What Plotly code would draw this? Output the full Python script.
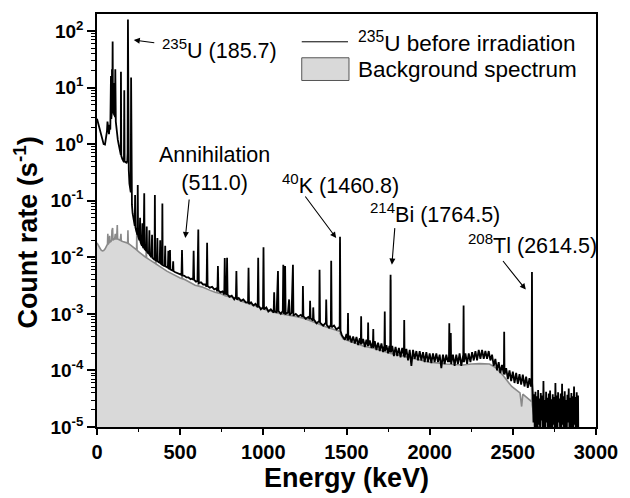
import plotly.graph_objects as go

# ---------------- data ----------------
# 235U before irradiation: energy (keV) and count rate (1/s)
energy_u235 = [
    0, 8, 16, 24, 32, 40, 48, 54, 60, 63, 66, 72, 77, 80, 84, 86, 89, 90, 92, 94, 96, 98, 100, 103, 106, 108,
    110, 113, 117, 121, 125, 130, 135, 140, 143, 144, 146, 152, 158, 162, 164, 166, 172, 178, 182, 184, 186,
    188, 191, 195, 199, 203, 205, 207,
    210, 214, 218, 222, 227, 229, 231, 236, 240, 243, 245, 247, 252, 256, 259, 261, 266, 270, 273, 275, 280,
    284, 286, 291, 296, 299, 301, 306, 312, 315, 317, 322, 327, 331, 333, 338, 342, 346, 348, 350, 355, 360,
    363, 365, 371, 377, 380, 382, 388, 391, 393, 395, 401, 407, 410, 412, 419, 426, 429, 431, 436, 439, 441,
    448, 455, 458, 460, 468, 476, 484, 492, 500,
    508, 511, 514, 525, 538, 550, 563, 572, 578, 581, 584, 595, 604, 609, 612, 625, 638, 650, 659, 662, 665,
    678, 692, 705, 716, 724, 727, 730, 742, 755, 765, 768, 771, 779, 782, 785, 796, 810, 825, 835, 838, 841,
    852, 866, 880, 894, 908, 911, 914, 926, 940, 953, 966, 969, 972, 985, 998, 1001, 1004, 1018, 1030, 1045,
    1062, 1065, 1068, 1080, 1088, 1091, 1105, 1117, 1120, 1123, 1128, 1131, 1134, 1148, 1155, 1158, 1170,
    1178, 1181, 1195, 1210, 1225, 1236, 1238, 1241, 1255, 1270, 1279, 1281, 1284, 1298, 1300, 1303, 1320,
    1336, 1338, 1341, 1360, 1376, 1378, 1381, 1395, 1406, 1408, 1411, 1425, 1440, 1455, 1459, 1461, 1464,
    1472, 1480,
    1490, 1500, 1507, 1509, 1511, 1520, 1530, 1540, 1550, 1560, 1570, 1580, 1586, 1588, 1590, 1600, 1610,
    1620, 1628, 1630, 1632, 1640, 1650, 1659, 1661, 1663, 1670, 1680, 1690, 1700, 1710, 1720, 1728, 1730,
    1732, 1740, 1750, 1758, 1763, 1765, 1767, 1775, 1785, 1795, 1805, 1815, 1825, 1835, 1845, 1847, 1849,
    1860, 1870, 1880, 1890, 1900, 1910, 1920, 1930, 1940, 1950, 1960, 1970, 1980, 1990, 2000, 2010, 2020,
    2030, 2040, 2050, 2060, 2070, 2080, 2090, 2100, 2110, 2116, 2118, 2120, 2125, 2127, 2129, 2140, 2150,
    2160, 2170, 2180, 2190, 2202, 2204, 2206, 2215, 2225, 2235, 2245, 2255, 2265, 2275, 2285, 2295, 2305,
    2315, 2325, 2335, 2345, 2355, 2365, 2375, 2385, 2395, 2405, 2415, 2425, 2435, 2446, 2448, 2450, 2460,
    2470, 2480, 2490, 2500, 2510, 2520, 2530, 2540, 2550, 2560, 2570, 2580, 2590, 2600, 2608, 2613, 2615,
    2617, 2620,
    2624, 2628, 2632, 2636, 2640, 2644, 2648, 2652, 2656, 2660, 2664, 2668, 2672, 2676, 2680, 2684, 2688,
    2692, 2696, 2700, 2704, 2708, 2712, 2716, 2720, 2724, 2728, 2732, 2736, 2740, 2744, 2748, 2752, 2756,
    2760, 2764, 2768, 2772, 2776, 2780, 2784, 2788, 2792, 2796, 2800, 2804, 2808, 2812, 2816, 2820, 2824,
    2828, 2832, 2836, 2840, 2844, 2848, 2852, 2856, 2860, 2864, 2868, 2872, 2876, 2880, 2884, 2888, 2892,
    2894,
]
rate_u235 = [
    2.8, 2.3, 1.8, 1.4, 1.15, 1.0, 0.98, 1.2, 1.7, 2.5, 1.8, 1.5, 2.2, 1.8, 16, 2.8, 3.6, 21, 5, 65, 3.5, 30,
    4, 3.2, 12, 3.0, 21, 2.5, 1.8, 1.4, 1.2, 1.0, 0.85, 0.72, 0.65, 19, 0.62, 0.55, 0.5, 0.48, 9, 0.5, 0.48,
    0.47, 0.5, 0.7, 160, 0.6, 0.35, 0.2, 0.16, 0.14, 15, 0.12,
    0.085, 0.06, 0.05, 0.042, 0.036, 0.126, 0.034, 0.029, 0.026, 0.025, 0.19, 0.024, 0.021, 0.02, 0.05,
    0.019, 0.017, 0.016, 0.04, 0.0155, 0.0145, 0.135, 0.014, 0.0135, 0.013, 0.035, 0.0125, 0.012, 0.0115,
    0.03, 0.011, 0.0105, 0.01, 0.025, 0.0098, 0.0095, 0.0093, 0.009, 0.126, 0.009, 0.0088, 0.0086, 0.022,
    0.0085, 0.0082, 0.008, 0.02, 0.0078, 0.0075, 0.0074, 0.089, 0.0073, 0.0071, 0.007, 0.016, 0.0069,
    0.0067, 0.0065, 0.013, 0.0064, 0.0062, 0.0135, 0.0061, 0.006, 0.0058, 0.0085, 0.0057, 0.0055, 0.0054,
    0.0052, 0.0051, 0.005,
    0.0049, 0.0135, 0.0048, 0.0047, 0.0044, 0.0044, 0.0041, 0.0042, 0.0040, 0.013, 0.0040, 0.0037, 0.0038,
    0.031, 0.0035, 0.0036, 0.0033, 0.0033, 0.0030, 0.018, 0.0031, 0.0029, 0.0030, 0.0027, 0.0028, 0.0025,
    0.007, 0.0026, 0.0024, 0.0025, 0.0022, 0.0097, 0.0023, 0.0022, 0.0098, 0.0022, 0.0020, 0.0021, 0.0018,
    0.0020, 0.0057, 0.0018, 0.0019, 0.0017, 0.0018, 0.0016, 0.0016, 0.0065, 0.0015, 0.0016, 0.0014, 0.0015,
    0.0013, 0.0098, 0.0014, 0.0012, 0.0013, 0.015, 0.0012, 0.0013, 0.0011, 0.0012, 0.00105, 0.0024,
    0.00112, 0.00105, 0.0057, 0.00112, 0.001, 0.00112, 0.0074, 0.001, 0.0011, 0.007, 0.001, 0.00105, 0.0018,
    0.00095, 0.00104, 0.0074, 0.00093, 0.001, 0.0009, 0.00096, 0.00088, 0.0031, 0.0009, 0.00082, 0.00088,
    0.0008, 0.0017, 0.00084, 0.00076, 0.0013, 0.0008, 0.00068, 0.00075, 0.006, 0.0007, 0.00062, 0.0007,
    0.0018, 0.00064, 0.00057, 0.00064, 0.0087, 0.00058, 0.00062, 0.00053, 0.00058, 0.00054, 0.023, 0.0005,
    0.00042, 0.00039,
    3.5e-4, 4.4e-4, 3.4e-4, 1.03e-3, 3.4e-4, 4.1e-4, 3.1e-4, 4.0e-4, 3.0e-4, 3.9e-4, 2.8e-4, 3.7e-4, 2.9e-4,
    9.1e-4, 2.9e-4, 3.6e-4, 2.6e-4, 3.5e-4, 2.7e-4, 7.0e-4, 2.7e-4, 3.4e-4, 2.5e-4, 3.2e-4, 5.4e-4, 2.5e-4,
    3.3e-4, 2.3e-4, 3.1e-4, 2.2e-4, 3.0e-4, 2.1e-4, 2.8e-4, 1.1e-3, 2.2e-4, 2.8e-4, 2.0e-4, 2.7e-4, 2.1e-4,
    4.9e-3, 2.1e-4, 2.7e-4, 1.8e-4, 2.6e-4, 1.8e-4, 2.5e-4, 1.7e-4, 2.5e-4, 1.8e-4, 7.8e-4, 1.7e-4, 2.4e-4,
    1.5e-4, 2.3e-4, 1.2e-4, 2.3e-4, 1.6e-4, 2.2e-4, 1.5e-4, 2.2e-4, 1.5e-4, 2.1e-4, 1.4e-4, 2.1e-4, 1.4e-4,
    2.0e-4, 1.35e-4, 2.0e-4, 1.4e-4, 2.0e-4, 1.4e-4, 1.9e-4, 1.1e-4, 1.9e-4, 1.3e-4, 1.9e-4, 1.4e-4, 1.7e-4,
    6.8e-4, 1.4e-4, 1.7e-4, 4.6e-4, 1.3e-4, 1.9e-4, 1.2e-4, 1.9e-4, 1.3e-4, 2.0e-4, 1.2e-4, 1.9e-4, 1.4e-3,
    1.4e-4, 2.0e-4, 1.3e-4, 2.0e-4, 1.4e-4, 2.1e-4, 1.5e-4, 2.2e-4, 1.5e-4, 2.3e-4, 1.6e-4, 2.3e-4, 1.6e-4,
    2.2e-4, 1.6e-4, 2.2e-4, 1.5e-4, 1.9e-4, 1.2e-4, 1.6e-4, 1.0e-4, 1.4e-4, 9.0e-5, 1.25e-4, 8.5e-5, 4.8e-4,
    8.5e-5, 1.1e-4, 7.0e-5, 1.0e-4, 6.5e-5, 9.5e-5, 6.0e-5, 9.0e-5, 5.8e-5, 8.6e-5, 5.6e-5, 8.4e-5, 5.2e-5,
    7.8e-5, 4.9e-5, 7.3e-5, 5.2e-5, 7.2e-5, 5.5e-3, 6.0e-5, 4.0e-5,
    1.2e-5, 3.8e-5, 8e-6, 4.2e-5, 1.0e-5, 3.5e-5, 7e-6, 4.5e-5, 1.1e-5, 3.2e-5, 8e-6, 4.0e-5, 1.3e-5, 3.6e-5,
    6e-6, 6.5e-5, 1.0e-5, 3.0e-5, 8e-6, 4.2e-5, 1.2e-5, 3.3e-5, 7e-6, 3.9e-5, 1.0e-5, 4.4e-5, 9e-6, 3.1e-5,
    6e-6, 3.8e-5, 1.1e-5, 3.4e-5, 8e-6, 6.0e-5, 1.0e-5, 3.6e-5, 7e-6, 4.1e-5, 1.2e-5, 3.2e-5, 9e-6, 3.9e-5,
    6e-6, 5.8e-5, 1.1e-5, 3.5e-5, 8e-6, 4.3e-5, 1.0e-5, 3.0e-5, 7e-6, 3.7e-5, 1.2e-5, 4.8e-5, 9e-6, 3.3e-5,
    6e-6, 4.0e-5, 1.0e-5, 3.5e-5, 8e-6, 5.2e-5, 1.1e-5, 3.4e-5, 7e-6, 4.1e-5, 9e-6, 3.6e-5, 5e-6,
]

# Background spectrum
energy_bg = [
    0, 8, 16, 24, 32, 40, 48, 56, 63, 65, 67, 74, 76, 78, 84, 88, 90, 92, 94, 96, 100, 106, 110, 112, 118,
    122, 124, 130, 140, 144, 146, 155, 165, 175, 184, 186, 188, 200, 212, 225, 238, 239, 241, 255, 270, 285,
    295, 296, 298, 310, 325, 340, 352, 353, 355, 370, 385, 400, 420, 440, 460, 480, 500, 510, 511, 513, 530,
    550, 570, 590, 608, 609, 611, 630, 660, 680, 710, 740, 770, 800, 830, 860, 890, 920, 950, 980, 1010,
    1040, 1075, 1110, 1140, 1174, 1210, 1250, 1290, 1330, 1370, 1410, 1450, 1460, 1461, 1462, 1480, 1550,
    1600, 1680, 1750, 1764, 1765, 1766, 1800, 1875, 1950, 2000, 2100, 2200, 2250, 2300, 2360, 2400, 2444,
    2493, 2543, 2553, 2560, 2602, 2613, 2614, 2616, 2633, 2650, 2665, 2668,
]
rate_bg = [
    0.018, 0.016, 0.0145, 0.0135, 0.013, 0.0132, 0.014, 0.0155, 0.017, 0.026, 0.017, 0.0185, 0.024, 0.0185,
    0.019, 0.02, 0.03, 0.02, 0.033, 0.02, 0.0205, 0.021, 0.026, 0.021, 0.021, 0.037, 0.021, 0.0205, 0.02,
    0.026, 0.0195, 0.019, 0.0185, 0.018, 0.0178, 0.03, 0.0175, 0.0165, 0.0155, 0.0145, 0.0135, 0.027,
    0.0133, 0.0122, 0.0112, 0.0104, 0.0099, 0.016, 0.0098, 0.0093, 0.0087, 0.0081, 0.0077, 0.012, 0.0076,
    0.0071, 0.0066, 0.0062, 0.0057, 0.0053, 0.0049, 0.0046, 0.0043, 0.0042, 0.0065, 0.0042, 0.004, 0.0037,
    0.0034, 0.0032, 0.0031, 0.006, 0.0031, 0.003, 0.0028, 0.0026, 0.0024, 0.0023, 0.0021, 0.002, 0.0019,
    0.0017, 0.0016, 0.0015, 0.0014, 0.0013, 0.0012, 0.00112, 0.00105, 0.001, 0.00097, 0.00093, 0.00088,
    0.00082, 0.00075, 0.00067, 0.0006, 0.00055, 0.0005, 0.00049, 0.018, 0.00045, 0.00036, 0.0003, 0.00027,
    0.00024, 0.00021, 0.0002, 0.004, 0.0002, 0.00019, 0.00017, 0.000155, 0.00014, 0.00013, 0.000125,
    0.00013, 0.000132, 0.00013, 0.00011, 8e-5, 5.2e-5, 4.0e-5, 2.3e-5, 3.8e-5, 3.0e-5, 2.8e-5, 0.004,
    2.5e-5, 1.2e-5, 1.0e-5, 9e-6, 1e-6,
]

x_ticks = [0, 500, 1000, 1500, 2000, 2500, 3000]
y_exponents = [-5, -4, -3, -2, -1, 0, 1, 2]

# peak labels: text, label centre (paper), arrow head (keV, log10 rate), arrow tail offset (px)
peak_labels = ["<sup>235</sup>U (185.7)", "Annihilation<br>(511.0)", "<sup>40</sup>K (1460.8)",
               "<sup>214</sup>Bi (1764.5)", "<sup>208</sup>Tl (2614.5)"]
label_pos = [(0.2446, 0.916), (0.2347, 0.624), (0.4882, 0.589), (0.6765, 0.517), (0.8718, 0.442)]
arrow_head = [(221, 1.84), (531, -1.66), (1438, -1.66), (1773, -2.13), (2578, -2.57)]
arrow_tail = [(22, 3), (4, -40), (-32, -43), (3, -38), (-24, -30)]

FONT = "Liberation Sans, Arial, Helvetica, sans-serif"

fig = go.Figure()
fig.add_trace(go.Scatter(x=energy_bg, y=rate_bg, mode="lines", name="Background spectrum",
                         line=dict(color="#8a8a8a", width=1.6), fill="tozeroy", fillcolor="#d9d9d9",
                         showlegend=False))
fig.add_trace(go.Scatter(x=energy_u235, y=rate_u235, mode="lines", name="235U before irradiation",
                         line=dict(color="black", width=1.8), showlegend=False))

minor_y = [k * 10.0 ** e for e in y_exponents[:-1] for k in range(2, 10)] + [200]

fig.update_layout(
    width=630, height=498,
    margin=dict(l=97, r=26, t=14, b=68),
    paper_bgcolor="white", plot_bgcolor="white",
    font=dict(family=FONT, color="black"),
    xaxis=dict(range=[0, 3000], tickmode="array", tickvals=x_ticks,
               ticks="outside", ticklen=6, tickwidth=1.5, tickcolor="black",
               showline=True, linecolor="black", linewidth=1.5, mirror=True,
               showgrid=False, zeroline=False,
               tickfont=dict(size=20, family=FONT, weight="bold"),
               minor=dict(dtick=250, ticks="outside", ticklen=3, tickwidth=1.2, tickcolor="black", showgrid=False),
               title=dict(text="<b>Energy (keV)</b>", font=dict(size=27, family=FONT), standoff=4)),
    yaxis=dict(type="log", range=[-5, 2.3], tickmode="array",
               tickvals=[10.0 ** e for e in y_exponents],
               ticktext=["<b>10<sup>%d</sup></b>" % e for e in y_exponents],
               ticks="outside", ticklen=8, tickwidth=1.5, tickcolor="black",
               showline=True, linecolor="black", linewidth=1.5, mirror=True,
               showgrid=False, zeroline=False,
               tickfont=dict(size=19, family=FONT),
               minor=dict(tickmode="array", tickvals=minor_y, ticks="outside", ticklen=4,
                          tickwidth=1.2, tickcolor="black", showgrid=False)),
)

# y-axis title (placed like the reference, slightly below the plot centre)
fig.add_annotation(x=-0.142, y=0.471, xref="paper", yref="paper", textangle=-90,
                   text="<b>Count rate (s<sup>-1</sup>)</b>", showarrow=False,
                   font=dict(size=27, family=FONT), xanchor="center", yanchor="middle")

# peak annotations
for txt, (px_, py_), (hx, hy), (tx, ty) in zip(peak_labels, label_pos, arrow_head, arrow_tail):
    fig.add_annotation(x=px_, y=py_, xref="paper", yref="paper", text=txt, showarrow=False,
                       font=dict(size=21.5, family=FONT), xanchor="center", yanchor="middle", align="center")
    fig.add_annotation(x=hx, y=hy, xref="x", yref="y", text="", showarrow=True, ax=tx, ay=ty,
                       axref="pixel", ayref="pixel", arrowhead=2, arrowsize=1.1, arrowwidth=1.1,
                       arrowcolor="black")

# legend (drawn)
fig.add_shape(type="line", xref="paper", yref="paper", x0=0.4103, x1=0.503, y0=0.9327, y1=0.9327,
              line=dict(color="black", width=1))
fig.add_shape(type="rect", xref="paper", yref="paper", x0=0.4103, x1=0.505, y0=0.839, y1=0.894,
              line=dict(color="#555555", width=1), fillcolor="#d9d9d9")
fig.add_annotation(x=0.5187, y=0.932, xref="paper", yref="paper", xanchor="left", yanchor="middle",
                   text="<sup>235</sup>U before irradiation", showarrow=False, font=dict(size=22.5, family=FONT))
fig.add_annotation(x=0.5187, y=0.866, xref="paper", yref="paper", xanchor="left", yanchor="middle",
                   text="Background spectrum", showarrow=False, font=dict(size=22.5, family=FONT))

fig.write_html("out.html")
